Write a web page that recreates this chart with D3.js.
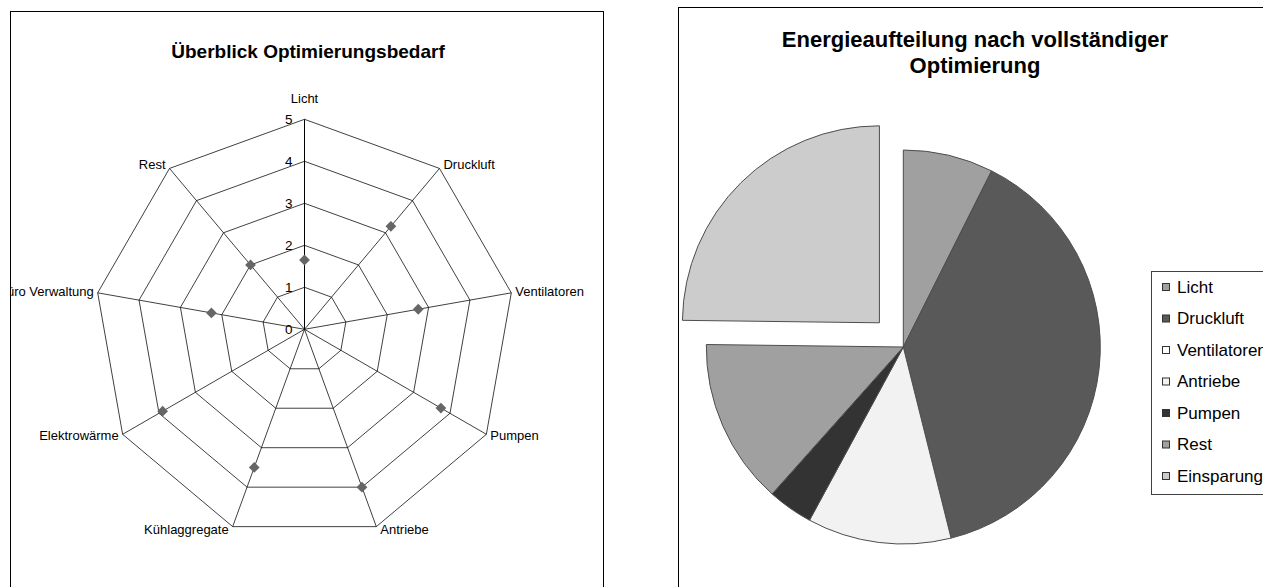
<!DOCTYPE html>
<html>
<head>
<meta charset="utf-8">
<script src="https://cdn.jsdelivr.net/npm/d3@7"></script>
<style>
  body { margin: 0; background: #fff; }
  svg { display: block; font-family: "Liberation Sans", Arial, sans-serif; }
</style>
</head>
<body>
<svg id="chart" width="1263" height="587"></svg>
<script>
// Radar: Optimierungsbedarf per category (0..5)
const radarAxes = ['Licht', 'Druckluft', 'Ventilatoren', 'Pumpen', 'Antriebe',
    'Kühlaggregate', 'Elektrowärme', 'Büro Verwaltung', 'Rest'];
const radarValues = [1.65, 3.2, 2.75, 3.75, 4.0, 3.5, 3.9, 2.25, 2.0];
const radarTicks = [0, 1, 2, 3, 4, 5];

// Pie: share of energy after full optimisation (%)
const pieLabels = ['Licht', 'Druckluft', 'Ventilatoren', 'Antriebe', 'Pumpen', 'Rest', 'Einsparung'];
const pieValues = [7.4, 38.7, 0, 11.8, 3.7, 13.6, 24.8];
const pieColors = ['#a0a0a0', '#595959', '#ffffff', '#f2f2f2', '#333333', '#a0a0a0', '#cccccc'];
const EXPLODED = 'Einsparung';

const svg = d3.select('#chart');
const defs = svg.append('defs');

// ---------- left panel: radar ----------
defs.append('clipPath').attr('id', 'clipL')
    .append('rect').attr('x', 11).attr('y', 12).attr('width', 593).attr('height', 600);

svg.append('rect')
    .attr('x', 10.5).attr('y', 11.5).attr('width', 593).attr('height', 600)
    .attr('fill', '#fff').attr('stroke', '#000').attr('stroke-width', 1);

const left = svg.append('g').attr('clip-path', 'url(#clipL)');

left.append('text')
    .attr('x', 308).attr('y', 58)
    .attr('text-anchor', 'middle')
    .attr('font-size', '19px').attr('font-weight', 'bold')
    .text('Überblick Optimierungsbedarf');

const cx = 304.5, cy = 329.3;
const rScale = d3.scaleLinear().domain([0, 5]).range([0, 210]);
const aScale = d3.scaleLinear().domain([0, radarAxes.length]).range([0, 2 * Math.PI]);

const radar = left.append('g').attr('transform', `translate(${cx},${cy})`);

const ring = d3.lineRadial()
    .angle((d, i) => aScale(i))
    .radius(d => rScale(d))
    .curve(d3.curveLinearClosed);

// rings
for (const t of radarTicks.slice(1)) {
    radar.append('path')
        .attr('d', ring(radarAxes.map(() => t)))
        .attr('fill', 'none')
        .attr('stroke', '#000')
        .attr('stroke-width', 0.75);
}

// spokes
radarAxes.forEach((name, i) => {
    const a = aScale(i);
    radar.append('line')
        .attr('x1', 0).attr('y1', 0)
        .attr('x2', rScale(5) * Math.sin(a))
        .attr('y2', -rScale(5) * Math.cos(a))
        .attr('stroke', '#000')
        .attr('stroke-width', i === 0 ? 1 : 0.75);
});

// tick labels along the first spoke
radar.selectAll('.tick')
    .data(radarTicks)
    .enter().append('text')
    .attr('x', -12)
    .attr('y', d => -rScale(d) + 4.5)
    .attr('text-anchor', 'end')
    .attr('font-size', '13.5px')
    .text(d => d);

// category labels
radarAxes.forEach((name, i) => {
    const a = aScale(i);
    const vx = rScale(5) * Math.sin(a);
    const vy = -rScale(5) * Math.cos(a);
    const s = Math.sin(a);
    const t = radar.append('text').attr('font-size', '13px').text(name);
    if (Math.abs(s) < 1e-6) {
        t.attr('x', vx).attr('y', vy - 16).attr('text-anchor', 'middle');
    } else {
        t.attr('x', vx + (s > 0 ? 4 : -4))
            .attr('y', vy + 4 - 4 * Math.cos(a))
            .attr('text-anchor', s > 0 ? 'start' : 'end');
    }
});

// markers
const diamond = d3.symbol().type(d3.symbolSquare).size(58);
radar.selectAll('.pt')
    .data(radarValues)
    .enter().append('path')
    .attr('d', diamond)
    .attr('transform', (d, i) => {
        const a = aScale(i);
        return `translate(${rScale(d) * Math.sin(a)},${-rScale(d) * Math.cos(a)}) rotate(45)`;
    })
    .attr('fill', '#666666');

// ---------- right panel: pie ----------
svg.append('rect')
    .attr('x', 678.5).attr('y', 7.5).attr('width', 600).attr('height', 620)
    .attr('fill', '#fff').attr('stroke', '#000').attr('stroke-width', 1);

const right = svg.append('g');

const title2 = right.append('text')
    .attr('text-anchor', 'middle')
    .attr('font-size', '22px').attr('font-weight', 'bold');
title2.append('tspan').attr('x', 975).attr('y', 46.5).text('Energieaufteilung nach vollständiger');
title2.append('tspan').attr('x', 975).attr('y', 73.3).text('Optimierung');

const pcx = 903.3, pcy = 347, pr = 197;
const pieData = pieLabels.map((label, i) => ({ label, value: pieValues[i], color: pieColors[i] }));
const pie = d3.pie().sort(null).value(d => d.value);
const arc = d3.arc().innerRadius(0).outerRadius(pr);

const pieG = right.append('g').attr('transform', `translate(${pcx},${pcy})`);

pie(pieData).forEach(s => {
    if (s.endAngle - s.startAngle <= 0) return;
    let dx = 0, dy = 0;
    if (s.data.label === EXPLODED) {
        const mid = (s.startAngle + s.endAngle) / 2;
        dx = 34 * Math.sin(mid);
        dy = -34 * Math.cos(mid);
    }
    pieG.append('path')
        .attr('d', arc(s))
        .attr('transform', `translate(${dx},${dy})`)
        .attr('fill', s.data.color)
        .attr('stroke', '#4d4d4d')
        .attr('stroke-width', 1)
        .attr('stroke-linejoin', 'round');
});

// legend
const legX = 1151, legY = 271, legStep = 31.5;
right.append('rect')
    .attr('x', legX + 0.5).attr('y', legY + 0.5)
    .attr('width', 140).attr('height', 223)
    .attr('fill', '#fff').attr('stroke', '#404040').attr('stroke-width', 1);

const leg = right.selectAll('.leg')
    .data(pieData)
    .enter().append('g')
    .attr('transform', (d, i) => `translate(${legX + 11},${legY + 16 + i * legStep})`);

leg.append('rect')
    .attr('x', 0.5).attr('y', -3.5)
    .attr('width', 7).attr('height', 7)
    .attr('fill', d => d.color)
    .attr('stroke', '#333').attr('stroke-width', 1);

leg.append('text')
    .attr('x', 15).attr('y', 5.5)
    .attr('font-size', '17px')
    .text(d => d.label);
</script>
</body>
</html>
